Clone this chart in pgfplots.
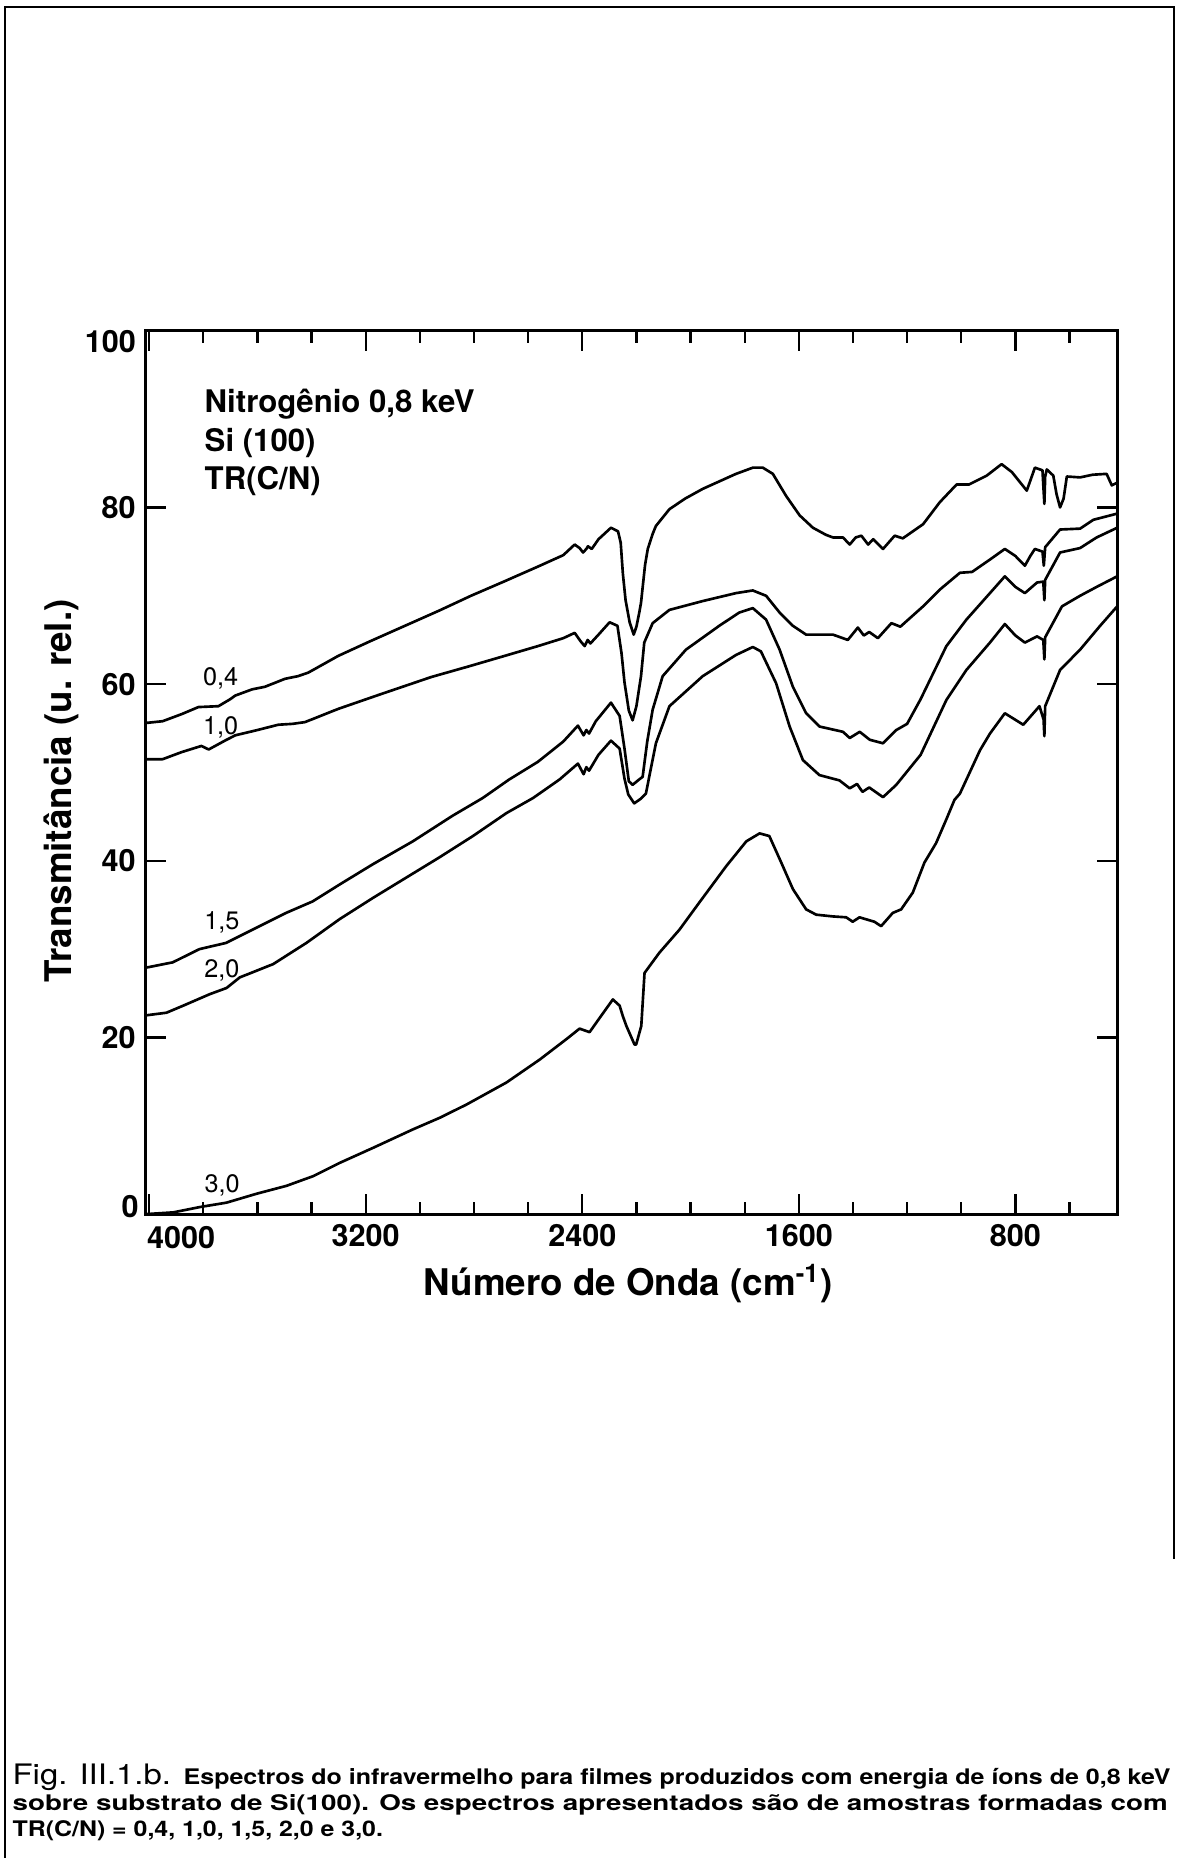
\documentclass[border=0pt]{standalone}
\usepackage{fontspec}
\setmainfont{TeX Gyre Heros}
\usepackage{graphicx}
\usepackage{pgfplots}
\usepackage{pgfplotstable}
\pgfplotsset{compat=1.18}

\begin{document}
\pgfplotstableread{
wn T
4012 55.6
3950 55.8
3880 56.6
3818 57.4
3744 57.5
3700 58.3
3682 58.7
3620 59.4
3572 59.7
3498 60.6
3450 60.9
3412 61.3
3301 63.2
3180 64.9
3055 66.6
2930 68.3
2811 70.0
2690 71.6
2564 73.3
2470 74.6
2428 75.8
2410 75.4
2397 74.9
2385 75.3
2379 75.6
2365 75.3
2340 76.4
2294 77.7
2268 77.3
2258 76.0
2250 72.5
2240 69.5
2225 67.0
2210 65.6
2200 66.5
2190 68.0
2183 69.2
2175 71.5
2168 73.5
2158 75.3
2140 77.0
2128 77.9
2078 79.8
2020 81.0
1955 82.1
1890 83.0
1832 83.8
1770 84.5
1733 84.5
1696 83.8
1647 81.3
1597 79.1
1548 77.7
1500 76.9
1474 76.6
1437 76.6
1412 75.8
1390 76.6
1369 76.8
1344 75.8
1325 76.4
1289 75.3
1246 76.8
1216 76.5
1141 78.1
1079 80.6
1017 82.6
971 82.6
906 83.6
851 84.9
813 84.0
758 81.9
728 84.5
700 84.2
696 82.0
693 80.4
690 83.5
684 84.3
660 83.6
648 81.5
635 80.0
622 81.0
610 83.5
561 83.4
515 83.7
463 83.8
444 82.5
424 82.8
}\tabA
\pgfplotstableread{
wn T
4012 51.5
3950 51.5
3880 52.3
3807 53.0
3780 52.6
3720 53.6
3682 54.2
3600 54.8
3523 55.4
3470 55.5
3424 55.7
3301 57.2
3150 58.8
2958 60.8
2820 62.0
2686 63.2
2564 64.3
2470 65.2
2428 65.8
2405 64.8
2391 64.3
2380 65.0
2370 64.6
2340 65.6
2299 67.0
2270 66.6
2255 63.5
2244 60.2
2228 57.0
2214 55.9
2200 57.5
2183 60.9
2171 64.7
2140 66.9
2078 68.4
1955 69.4
1832 70.3
1770 70.6
1721 70.0
1671 68.1
1622 66.6
1573 65.6
1474 65.6
1419 65.0
1382 66.4
1360 65.5
1340 65.9
1308 65.2
1258 66.9
1225 66.5
1141 68.8
1079 70.7
1005 72.6
960 72.7
894 74.1
839 75.3
800 74.5
765 73.4
745 74.5
728 75.3
700 75.0
695 73.4
690 75.5
635 77.5
561 77.6
512 78.6
424 79.3
}\tabB
\pgfplotstableread{
wn T
4012 27.9
3913 28.5
3814 30.0
3716 30.7
3605 32.4
3494 34.1
3396 35.4
3297 37.3
3174 39.6
3026 42.2
2879 45.1
2768 47.1
2670 49.2
2564 51.2
2470 53.5
2416 55.3
2395 54.2
2385 54.8
2375 54.4
2350 55.8
2294 57.9
2262 56.4
2244 52.7
2228 49.0
2214 48.6
2190 49.2
2177 49.5
2160 53.5
2140 57.1
2103 60.9
2017 63.9
1894 66.6
1820 68.1
1770 68.6
1721 67.3
1671 63.9
1622 59.7
1573 56.7
1524 55.2
1437 54.6
1412 53.9
1375 54.6
1338 53.7
1289 53.3
1240 54.8
1200 55.5
1150 58.3
1055 64.3
981 67.3
894 70.3
839 72.2
800 71.0
765 70.3
720 71.5
697 71.6
693 69.5
690 71.8
635 74.9
561 75.4
500 76.6
424 77.7
}\tabC
\pgfplotstableread{
wn T
4012 22.5
3936 22.8
3874 23.6
3776 24.9
3714 25.6
3665 26.8
3542 28.3
3419 30.7
3296 33.4
3173 35.8
3050 38.1
2927 40.4
2804 42.8
2680 45.4
2582 47.1
2484 49.2
2416 51.0
2395 49.8
2385 50.6
2375 50.2
2340 52.0
2294 53.6
2262 52.7
2244 49.3
2230 47.5
2208 46.5
2185 47.0
2165 47.6
2128 53.3
2078 57.5
1955 60.9
1832 63.3
1770 64.2
1740 63.7
1684 60.1
1634 55.2
1585 51.4
1524 49.7
1450 49.1
1412 48.2
1385 48.7
1365 47.8
1340 48.3
1289 47.2
1240 48.6
1150 52.0
1055 58.2
981 61.6
894 64.7
839 66.8
800 65.5
765 64.7
720 65.4
697 65.0
693 62.8
690 65.3
628 68.8
561 70.0
500 71.0
424 72.2
}\tabD
\pgfplotstableread{
wn T
4012 0.0
3911 0.2
3813 0.8
3714 1.3
3604 2.3
3493 3.2
3394 4.3
3296 5.8
3173 7.5
3025 9.6
2927 10.9
2828 12.4
2680 14.9
2557 17.5
2459 19.8
2410 21.0
2373 20.6
2336 22.2
2287 24.3
2262 23.6
2250 22.4
2237 21.3
2207 19.2
2201 19.2
2182 21.3
2170 27.3
2115 29.6
2041 32.2
1967 35.3
1868 39.4
1794 42.2
1745 43.1
1709 42.8
1665 39.8
1622 36.8
1573 34.5
1536 33.9
1474 33.7
1425 33.6
1401 33.1
1376 33.6
1321 33.1
1296 32.6
1253 34.1
1222 34.5
1179 36.4
1136 39.8
1093 42.0
1055 44.7
1025 46.9
1005 47.6
931 52.5
894 54.4
839 56.7
771 55.4
711 57.5
696 56.0
693 54.1
690 57.5
635 61.6
561 63.9
487 66.6
424 68.8
}\tabE
\begin{tikzpicture}[x=1pt,y=1pt]
\path (0,0) rectangle (400.86,632.06);
\draw[line width=0.9pt] (1.7,0) -- (1.7,629.7) -- (399.5,629.7) -- (399.5,101.7);
\begin{axis}[
  at={(49.64pt,218.96pt)}, anchor=south west,
  scale only axis, width=330.48pt, height=300.56pt,
  x dir=reverse, xmin=424, xmax=4012, ymin=0, ymax=100,
  xtick={4000,3200,2400,1600,800},
  xticklabels={,3200,2400,1600,800},
  minor xtick={3800,3600,3400,3000,2800,2600,2200,2000,1800,1400,1200,1000,600},
  ytick={0,20,40,60,80,100},
  yticklabels={,20,40,60,80,},
  tick align=inside,
  xtick pos=both, ytick pos=both,
  major tick length=6.8pt, minor tick length=4pt,
  every tick/.style={black, line width=0.8pt},
  axis line style={line width=1.1pt},
  /pgf/number format/assume math mode=true,
  ticklabel style={font=\fontsize{10.4}{12}\selectfont\bfseries},
  xlabel={Número de Onda (cm\textsuperscript{-1})},
  ylabel={Transmitância (u. rel.)},
  label style={font=\fontsize{12.5}{15}\selectfont\bfseries},
  xlabel style={at={(axis description cs:0.4965,-0.0786)}, anchor=center},
  ylabel style={at={(axis description cs:-0.087,0.479)}, anchor=center},
  clip mode=individual,
]
\addplot[black, line width=0.9pt, line join=round, no marks] table[x=wn,y=T] {\tabA};
\addplot[black, line width=0.9pt, line join=round, no marks] table[x=wn,y=T] {\tabB};
\addplot[black, line width=0.9pt, line join=round, no marks] table[x=wn,y=T] {\tabC};
\addplot[black, line width=0.9pt, line join=round, no marks] table[x=wn,y=T] {\tabD};
\addplot[black, line width=0.9pt, line join=round, no marks] table[x=wn,y=T] {\tabE};

\node[anchor=base west, inner sep=0, font=\fontsize{10.6}{12}\selectfont\bfseries] at (axis description cs:0.060,0.908) {Nitrogênio 0,8 keV};
\node[anchor=base west, inner sep=0, font=\fontsize{10.6}{12}\selectfont\bfseries] at (axis description cs:0.060,0.863) {Si (100)};
\node[anchor=base west, inner sep=0, font=\fontsize{10.6}{12}\selectfont\bfseries] at (axis description cs:0.060,0.820) {TR(C/N)};

\node[anchor=base, inner sep=0, font=\fontsize{8.6}{10}\selectfont] at (axis cs:3736,59.8) {0,4};
\node[anchor=base, inner sep=0, font=\fontsize{8.6}{10}\selectfont] at (axis cs:3736,54.3) {1,0};
\node[anchor=base, inner sep=0, font=\fontsize{8.6}{10}\selectfont] at (axis cs:3731,32.2) {1,5};
\node[anchor=base, inner sep=0, font=\fontsize{8.6}{10}\selectfont] at (axis cs:3731,26.8) {2,0};
\node[anchor=base, inner sep=0, font=\fontsize{8.6}{10}\selectfont] at (axis cs:3730,2.45) {3,0};

\node[anchor=east, inner sep=0, font=\fontsize{10.4}{12}\selectfont\bfseries, xshift=-3.2pt] at (axis description cs:0,0.988) {100};
\node[anchor=east, inner sep=0, font=\fontsize{10.4}{12}\selectfont\bfseries, xshift=-2.3pt] at (axis description cs:0,0.0085) {0};
\node[anchor=north west, inner sep=0, font=\fontsize{10.4}{12}\selectfont\bfseries, yshift=-4pt, xshift=0.2pt] at (axis description cs:0,0) {4000};
\end{axis}
\node[anchor=base west, inner sep=0] at (4.1,24.8) {\resizebox{394pt}{\height}{{\fontsize{9.6}{11}\selectfont Fig. III.1.b.} {\fontsize{7.3}{9}\selectfont\bfseries Espectros do infravermelho para filmes produzidos com energia de íons de 0,8 keV}}};
\node[anchor=base west, inner sep=0] at (4.1,16.0) {\resizebox{393pt}{\height}{\fontsize{7.3}{9}\selectfont\bfseries sobre substrato de Si(100). Os espectros apresentados são de amostras formadas com}};
\node[anchor=base west, inner sep=0] at (4.1,7.1) {\resizebox{126pt}{\height}{\fontsize{7.3}{9}\selectfont\bfseries TR(C/N) = 0,4, 1,0, 1,5, 2,0 e 3,0.}};
\end{tikzpicture}
\end{document}
